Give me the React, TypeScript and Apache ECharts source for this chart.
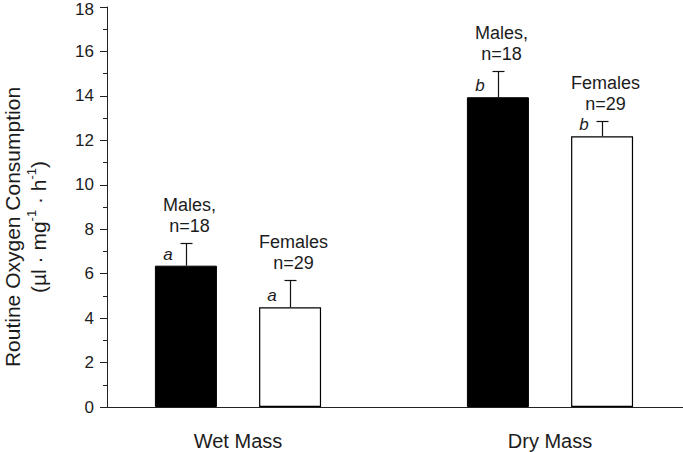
import React, { useEffect, useRef } from "react";
import * as echarts from "echarts";

const categories = ["Wet Mass", "Dry Mass"];
const maleMeans = [6.36, 13.94];
const maleErr = [1.01, 1.2];
const femaleMeans = [4.49, 12.18];
const femaleErr = [1.23, 0.71];
const letters = ["a", "b"];
const maleGroupLabel = "Males,\nn=18";
const femaleGroupLabel = "Females\nn=29";
const yTicks = [0, 18, 2];

const FONT = "Liberation Sans, Arial, sans-serif";
const TXT = "#1c1c1c";

export default function App() {
  const ref = useRef<HTMLDivElement>(null);
  useEffect(() => {
    const chart = echarts.init(ref.current!, null, { renderer: "svg" });
    const BW = 62;
    const HALF = 52;
    const mkErr = (means: number[], errs: number[], sign: number, label: string) => ({
      type: "custom",
      xAxisIndex: 0,
      yAxisIndex: 0,
      data: means.map((m, i) => [i, m, errs[i]]),
      z: 5,
      renderItem: (params: any, api: any) => {
        const idx = api.value(0);
        const m = api.value(1);
        const e = api.value(2);
        const base = api.coord([idx, m]);
        const topP = api.coord([idx, m + e]);
        const x = Math.round(base[0] + sign * HALF) + 0.5;
        const y0 = base[1];
        const y1 = Math.round(topP[1]) + 0.5;
        const ls = { stroke: "#111", lineWidth: 1.2 };
        return {
          type: "group",
          children: [
            { type: "line", shape: { x1: x, y1: y0, x2: x, y2: y1 }, style: ls },
            { type: "line", shape: { x1: x - 6, y1: y1, x2: x + 6, y2: y1 }, style: ls },
            {
              type: "text",
              x: x + 3,
              y: y1 - 7,
              style: {
                text: label,
                fontFamily: FONT,
                fontSize: 18,
                lineHeight: 21,
                fill: TXT,
                align: "center",
                verticalAlign: "bottom",
              },
            },
          ],
        };
      },
    });
    const letterLabel = {
      show: true,
      position: "top",
      distance: 3,
      offset: [-18, 0],
      formatter: (p: any) => letters[p.dataIndex],
      fontFamily: FONT,
      fontSize: 17,
      fontStyle: "italic",
      color: TXT,
    };
    chart.setOption({
      animation: false,
      backgroundColor: "#fff",
      grid: [
        { left: 82, width: 624, top: 7, height: 400, outerBoundsMode: "none" },
        { left: 107, right: 0, top: 7, height: 400, outerBoundsMode: "none" },
      ],
      xAxis: [
        {
          type: "category",
          gridIndex: 0,
          data: categories,
          axisLine: { show: false },
          axisTick: { show: false },
          axisLabel: { margin: 24, fontFamily: FONT, fontSize: 20, color: TXT },
        },
        {
          type: "value",
          gridIndex: 1,
          min: 0,
          max: 1,
          axisLine: { show: true, lineStyle: { color: "#222", width: 1 } },
          axisTick: { show: false },
          axisLabel: { show: false },
          splitLine: { show: false },
        },
      ],
      yAxis: [
        {
          type: "value",
          gridIndex: 0,
          min: yTicks[0],
          max: yTicks[1],
          interval: yTicks[2],
          offset: -25,
          axisLine: { show: true, lineStyle: { color: "#222", width: 1 } },
          axisTick: { show: true, inside: false, length: 7, lineStyle: { color: "#222" } },
          minorTick: { show: true, splitNumber: 2, length: 4, lineStyle: { color: "#222" } },
          splitLine: { show: false },
          axisLabel: {
            margin: 13,
            fontFamily: FONT,
            fontSize: 17,
            color: TXT,
            formatter: (v: number) => (v === yTicks[1] ? `{t|${v}}` : `${v}`),
            rich: { t: { fontFamily: FONT, fontSize: 17, color: TXT, lineHeight: 14, padding: [4, 0, 0, 0] } },
          },
          name: "{a|Routine Oxygen Consumption}\n{a|(µl · mg}{s|-1}{a| · h}{s|-1}{a|)}",
          nameLocation: "middle",
          nameGap: 56,
          nameTextStyle: {
            padding: [0, 40, 0, 0],
            rich: {
              a: { fontFamily: FONT, fontSize: 21, color: TXT, lineHeight: 26 },
              s: { fontFamily: FONT, fontSize: 13, color: TXT, lineHeight: 26, verticalAlign: "top", padding: [0, 0, 9, 0] },
            },
          },
        },
        { type: "value", gridIndex: 1, show: false, min: 0, max: 1 },
      ],
      series: [
        {
          type: "bar",
          xAxisIndex: 0,
          yAxisIndex: 0,
          data: maleMeans,
          barWidth: BW,
          barGap: "68%",
          itemStyle: { color: "#000", borderColor: "#000", borderWidth: 1 },
          label: letterLabel,
        },
        {
          type: "bar",
          xAxisIndex: 0,
          yAxisIndex: 0,
          data: femaleMeans,
          barWidth: BW,
          barGap: "68%",
          itemStyle: { color: "#fff", borderColor: "#000", borderWidth: 1.2 },
          label: letterLabel,
        },
        mkErr(maleMeans, maleErr, -1, maleGroupLabel),
        mkErr(femaleMeans, femaleErr, 1, femaleGroupLabel),
      ],
    });
    return () => chart.dispose();
  }, []);
  return <div ref={ref} style={{ width: 683, height: 452, position: "absolute", left: 0, top: 0 }} />;
}
